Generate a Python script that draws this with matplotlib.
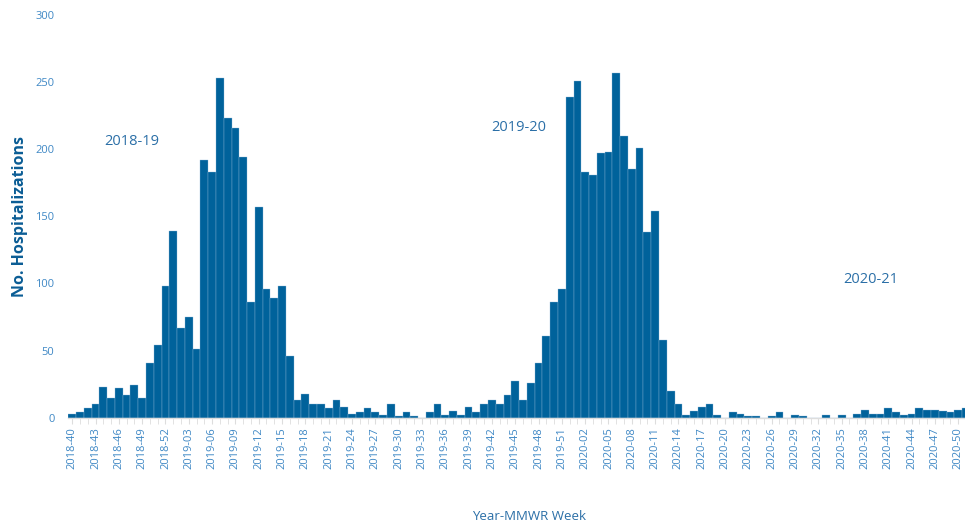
import numpy as np
import matplotlib
matplotlib.use('Agg')
import matplotlib.pyplot as plt
from matplotlib.ticker import FixedLocator

plt.rcParams['font.family'] = ['Open Sans', 'DejaVu Sans']

# MMWR weeks shown on the x axis (2018-40 .. 2020-51)
weeks = ([f"2018-{w:02d}" for w in range(40, 53)] +
         [f"2019-{w:02d}" for w in range(1, 53)] +
         [f"2020-{w:02d}" for w in range(1, 52)])

# weekly hospitalizations
hosp_2018 = [3, 4, 7, 10, 23, 15, 22, 17, 24, 15, 41, 54, 98]
hosp_2019 = [139, 67, 75, 51, 192, 183, 253, 223, 216, 194, 86, 157, 96, 89, 98, 46,
             13, 18, 10, 10, 7, 13, 8, 3, 4, 7, 4, 2, 10, 1, 4, 1, 0, 4, 10, 2,
             5, 2, 8, 4, 10, 13, 10, 17, 27, 13, 26, 41, 61, 86, 96, 239]
hosp_2020 = [251, 183, 181, 197, 198, 257, 210, 185, 201, 138, 154, 58, 20, 10, 2, 5,
             8, 10, 2, 0, 4, 3, 1, 1, 0, 1, 4, 0, 2, 1, 0, 0, 2, 0, 2, 0,
             3, 6, 3, 3, 7, 4, 2, 3, 7, 6, 6, 5, 4, 6, 7]
hospitalizations = hosp_2018 + hosp_2019 + hosp_2020

season_labels = ["2018-19", "2019-20", "2020-21"]
season_x = [7.7, 57.4, 102.8]
season_y = [206, 216, 103]

bar_color = '#00629b'
tick_color = '#3f88c5'
title_color = '#0b5d95'
note_color = '#2b6fa7'

fig = plt.figure(figsize=(9.65, 5.21), dpi=100)
ax = fig.add_axes([68.3 / 965, 1 - 417.7 / 521, 1 - 68.3 / 965, (417.7 - 15) / 521])

x = np.arange(len(weeks))
ax.bar(x, hospitalizations, width=1.0, color=bar_color, edgecolor='#8fb8d8', linewidth=0.25)

ax.set_xlim(-0.5, 114.87)
ax.set_ylim(0, 300)

# x ticks: every week marked, every third labelled
ax.xaxis.set_major_locator(FixedLocator(x[::3]))
ax.set_xticklabels(weeks[::3], rotation=90)
ax.xaxis.set_minor_locator(FixedLocator(x))
ax.tick_params(axis='x', which='both', length=4, color='#dddddd', labelsize=8,
               labelcolor=tick_color, pad=3)

ax.set_yticks([0, 50, 100, 150, 200, 250, 300])
ax.tick_params(axis='y', length=0, labelsize=8, labelcolor=tick_color, pad=10)

for s in ['top', 'right', 'left']:
    ax.spines[s].set_visible(False)
ax.spines['bottom'].set_color('#dddddd')
ax.spines['bottom'].set_linewidth(1)

ax.set_ylabel('No. Hospitalizations', fontsize=11.5, fontweight='bold', color=title_color)
ax.yaxis.set_label_coords(-0.045, 0.5)

for lab, sx, sy in zip(season_labels, season_x, season_y):
    ax.text(sx, sy, lab, fontsize=10.5, color=note_color, ha='center', va='center')

fig.text(529 / 965, 1 - 516 / 521, 'Year-MMWR Week', fontsize=9.5, color=note_color,
         ha='center', va='center')

fig.savefig('out.png', dpi=100)
